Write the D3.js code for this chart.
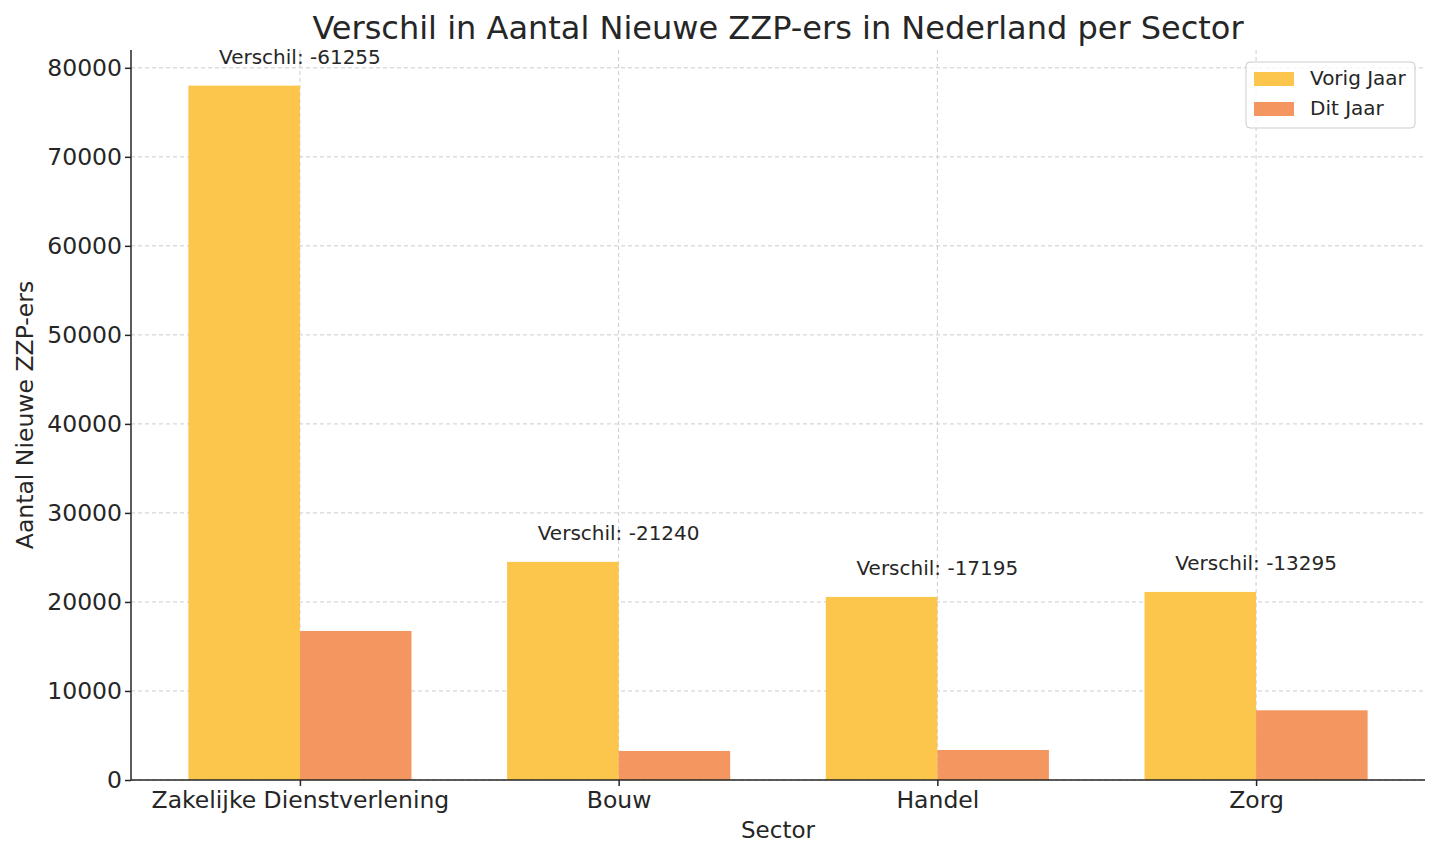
<!DOCTYPE html>
<html><head><meta charset="utf-8">
<script src="https://cdn.jsdelivr.net/npm/d3@7"></script>
<style>body{margin:0;background:#fff}text{font-family:"DejaVu Sans",sans-serif;fill:#262626}</style>
</head><body><svg id="c"></svg>
<script>
const sectors = ["Zakelijke Dienstverlening", "Bouw", "Handel", "Zorg"];
const vorigJaar = [78000, 24500, 20565, 21125];
const ditJaar = [16745, 3260, 3370, 7830];
const yTicks = [0, 10000, 20000, 30000, 40000, 50000, 60000, 70000, 80000];

const width = 1439, height = 846;
const margin = { top: 50, right: 14, bottom: 66, left: 131 };
const svg = d3.select("#c").attr("width", width).attr("height", height);

const x = d3.scaleLinear().domain([-0.53, 3.53]).range([margin.left, width - margin.right]);
const y = d3.scaleLinear().domain([0, 82000]).range([height - margin.bottom, margin.top]);
const bw = 0.35;

// grid
svg.append("g").selectAll("line").data(yTicks).join("line")
  .attr("x1", margin.left).attr("x2", width - margin.right)
  .attr("y1", d => y(d)).attr("y2", d => y(d))
  .attr("stroke", "#ccc").attr("stroke-dasharray", "4,3");
svg.append("g").selectAll("line").data(sectors).join("line")
  .attr("x1", (d, i) => x(i)).attr("x2", (d, i) => x(i))
  .attr("y1", margin.top).attr("y2", height - margin.bottom)
  .attr("stroke", "#ccc").attr("stroke-dasharray", "4,3");

// bars
svg.append("g").selectAll("rect").data(vorigJaar).join("rect")
  .attr("x", (d, i) => x(i - bw)).attr("width", x(bw) - x(0))
  .attr("y", d => y(d)).attr("height", d => y(0) - y(d)).attr("fill", "#fcc54b");
svg.append("g").selectAll("rect").data(ditJaar).join("rect")
  .attr("x", (d, i) => x(i)).attr("width", x(bw) - x(0))
  .attr("y", d => y(d)).attr("height", d => y(0) - y(d)).attr("fill", "#f4965f");

// annotations
svg.append("g").selectAll("text").data(vorigJaar).join("text")
  .attr("x", (d, i) => x(i)).attr("y", d => y(d + 3000) + 5)
  .attr("text-anchor", "middle").style("font-size", "20px")
  .text((d, i) => `Verschil: ${ditJaar[i] - d}`);

// axes
const xa = svg.append("g").attr("transform", `translate(0,${height - margin.bottom})`)
  .call(d3.axisBottom(x).tickValues([0, 1, 2, 3]).tickFormat(i => sectors[i]).tickSize(6));
const ya = svg.append("g").attr("transform", `translate(${margin.left},0)`)
  .call(d3.axisLeft(y).tickValues(yTicks).tickFormat(d3.format("d")).tickSize(6));
[xa, ya].forEach(a => {
  a.selectAll("text").style("font-size", "23.5px").attr("fill", "#262626");
  a.selectAll("line,path").attr("stroke", "#262626").attr("stroke-width", 1.5);
});
xa.selectAll("text").attr("dy", "0.8em");
xa.select(".domain").attr("d", `M${margin.left},0H${width - margin.right}`);
ya.select(".domain").attr("d", `M0,${y(0)}V${margin.top}`);

// labels
svg.append("text").attr("x", 778).attr("y", 39).attr("text-anchor", "middle")
  .style("font-size", "32px").text("Verschil in Aantal Nieuwe ZZP-ers in Nederland per Sector");
svg.append("text").attr("x", 778).attr("y", 838)
  .attr("text-anchor", "middle").style("font-size", "23px").text("Sector");
svg.append("text").attr("transform", "rotate(-90)").attr("x", -415)
  .attr("y", 33).attr("text-anchor", "middle").style("font-size", "23.5px").text("Aantal Nieuwe ZZP-ers");

// legend
const lg = svg.append("g").attr("transform", "translate(1246,62)");
lg.append("rect").attr("width", 169).attr("height", 66).attr("rx", 4)
  .attr("fill", "#fff").attr("fill-opacity", 0.8).attr("stroke", "#ccc");
[["Vorig Jaar", "#fcc54b"], ["Dit Jaar", "#f4965f"]].forEach(([t, c], i) => {
  lg.append("rect").attr("x", 8).attr("y", 10 + i * 30).attr("width", 40).attr("height", 14).attr("fill", c);
  lg.append("text").attr("x", 64).attr("y", 23 + i * 30).style("font-size", "20px").text(t);
});
</script></body></html>
